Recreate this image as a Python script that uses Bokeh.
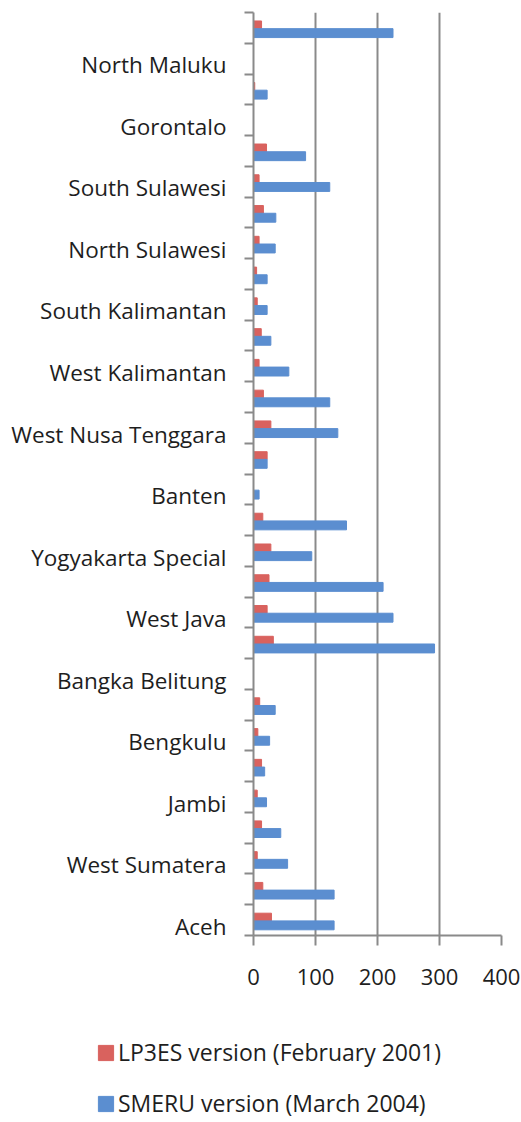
import math
from bokeh.plotting import figure
from bokeh.layouts import column
from bokeh.models import ColumnDataSource, FixedTicker, Legend, LegendItem, Range1d
from bokeh.embed import file_html
from bokeh.resources import INLINE
from bokeh.transform import dodge

nan = float("nan")

provinces = ["Aceh", "North Sumatera", "West Sumatera", "Riau", "Jambi",
             "South Sumatera", "Bengkulu", "Lampung", "Bangka Belitung", "Jakarta",
             "West Java", "Central Java", "Yogyakarta Special", "East Java", "Banten",
             "Bali", "West Nusa Tenggara", "East Nusa Tenggara", "West Kalimantan",
             "Central Kalimantan", "South Kalimantan", "East Kalimantan",
             "North Sulawesi", "Central Sulawesi", "South Sulawesi",
             "Southeast Sulawesi", "Gorontalo", "Maluku", "North Maluku", "Papua"]

lp3es_2001 = [29, 15, 6, 13, 6, 13, 7, 10, nan, 32,
              22, 25, 28, 15, nan, 22, 28, 16, 9, 12.5,
              6, 5, 9, 16, 9, 21, nan, 2, nan, 13]

smeru_2004 = [130, 130, 55, 44, 21, 18, 26, 35, nan, 292,
              225, 209, 94, 150, 9, 22, 136, 123, 57, 28,
              22, 22, 35, 36, 123, 84, nan, 22, nan, 225]

x_ticks = [0, 100, 200, 300, 400]
series_names = ["LP3ES version (February 2001)", "SMERU version (March 2004)"]

FONT = "Open Sans"
GRAY = "#8a8a8a"
TXT = "#1e1e1e"
RED = "#d9625e"
BLUE = "#5b8ed0"

OFF = 0.2   # labels sit a little below the category centre
n = len(provinces)
idx = list(range(n))
src = ColumnDataSource(data=dict(idx=idx, prov=provinces, lp3es=lp3es_2001, smeru=smeru_2004))

p = figure(width=521, height=1000,
           x_range=Range1d(0, 400), y_range=Range1d(-0.5 + OFF, n - 0.5 + OFF),
           output_backend="svg", toolbar_location=None,
           min_border_left=253, min_border_right=20, min_border_top=12,
           min_border_bottom=65)
p.outline_line_color = None
p.background_fill_color = "white"
p.border_fill_color = "white"
p.frame_align = False

r_red = p.hbar(y=dodge("idx", 0.1 + OFF), right="lp3es", left=0, height=0.25,
               color=RED, source=src)
r_blue = p.hbar(y=dodge("idx", -0.17 + OFF), right="smeru", left=0, height=0.29,
                color=BLUE, source=src)

# y axis: labels on every second category, tick marks at category boundaries
yax = p.yaxis[0]
yax.ticker = FixedTicker(ticks=[i for i in idx if i % 2 == 0],
                         minor_ticks=[i - 0.5 + OFF for i in range(n + 1)])
yax.major_label_overrides = {i: provinces[i] for i in idx if i % 2 == 0}
yax.axis_line_color = GRAY
yax.axis_line_width = 2
yax.major_tick_out = 0
yax.major_tick_in = 0
yax.minor_tick_out = 9
yax.minor_tick_in = 0
yax.minor_tick_line_color = GRAY
yax.minor_tick_line_width = 2
yax.major_label_standoff = 18
yax.major_label_text_font = FONT
yax.major_label_text_font_size = "22.5px"
yax.major_label_text_color = TXT

xax = p.xaxis[0]
xax.ticker = FixedTicker(ticks=x_ticks, minor_ticks=[])
xax.axis_line_color = GRAY
xax.axis_line_width = 2
xax.major_tick_out = 10
xax.major_tick_in = 0
xax.major_tick_line_color = GRAY
xax.major_tick_line_width = 2
xax.major_label_standoff = 23
xax.major_label_text_font = FONT
xax.major_label_text_font_size = "22px"
xax.major_label_text_color = TXT

p.xgrid.ticker = FixedTicker(ticks=x_ticks[1:])
p.xgrid.grid_line_color = GRAY
p.xgrid.grid_line_width = 2
p.ygrid.visible = False

# legend strip below the chart (bars here fall outside its view on purpose)
leg = figure(width=521, height=122, x_range=Range1d(1000, 1001),
             y_range=Range1d(1000, 1001), output_backend="svg",
             toolbar_location=None, min_border=0)
leg.axis.visible = False
leg.grid.visible = False
leg.outline_line_color = None
leg.frame_align = False
lr = leg.hbar(y="idx", right="lp3es", left=0, height=0.25, color=RED, source=src)
lb = leg.hbar(y="idx", right="smeru", left=0, height=0.29, color=BLUE, source=src)

legend = Legend(items=[LegendItem(label=series_names[0], renderers=[lr]),
                       LegendItem(label=series_names[1], renderers=[lb])],
                location=(96, 3), orientation="vertical",
                border_line_color=None, background_fill_alpha=0,
                padding=0, margin=0, spacing=19,
                glyph_width=19, glyph_height=19, label_standoff=3,
                label_text_font=FONT, label_text_font_size="23px",
                label_text_color=TXT)
leg.add_layout(legend)

layout = column(p, leg, spacing=0)
open("out.html", "w").write(file_html(layout, INLINE))
